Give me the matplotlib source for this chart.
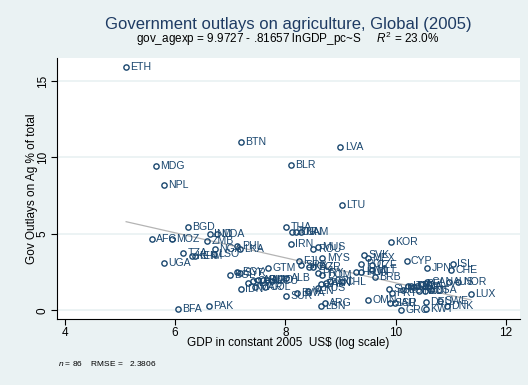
import matplotlib
matplotlib.use("Agg")
import matplotlib.pyplot as plt
import numpy as np

plt.rcParams['font.family'] = ['Liberation Sans', 'DejaVu Sans']
plt.rcParams['mathtext.fontset'] = 'custom'
plt.rcParams['mathtext.rm'] = 'Liberation Sans'
plt.rcParams['mathtext.it'] = 'Liberation Sans:italic'

# country codes, log GDP per capita and share of outlays going to agriculture
countries = [
    "ETH", "BTN", "MDG", "NPL", "BLR", "LVA", "LTU", "KOR", "BGD", "AFG",
    "MOZ", "ZMB", "IND", "MDA", "NGA", "PHL", "LKA", "TZA", "KEN", "KHM",
    "LSO", "UGA", "BFA", "PAK", "BOL", "EGY", "SYR", "IDN", "THA", "JOR",
    "TUN", "NAM", "IRN", "MUS", "ROU", "MYS", "FJI", "SRB", "KAZ", "BGR",
    "GTM", "PRY", "DOM", "ALB", "SLV", "CHN", "ARM", "GUY", "AGO", "ECU",
    "MAR", "COL", "SUR", "BWA", "VEN", "RUS", "ARG", "LBN", "ZAF", "PAN",
    "CRI", "CHL", "SVK", "MEX", "POL", "CZE", "HRV", "HUN", "MLT", "BRB",
    "CYP", "JPN", "ISL", "CHE", "CAN", "AUS", "NOR", "LUX", "OMN", "SVN",
    "PRT", "ESP", "ITA", "NZL", "GBR", "FRA", "BEL", "NLD", "AUT", "USA",
    "SAU", "ISR", "GRC", "KWT", "DNK", "DEU", "SWE",
]
ln_gdp = [
    5.11, 7.19, 5.65, 5.79, 8.10, 9.00, 9.03, 9.91, 6.23, 5.58,
    5.94, 6.58, 6.63, 6.76, 6.72, 7.13, 7.18, 6.14, 6.30, 6.36,
    6.70, 5.80, 6.05, 6.61, 6.99, 7.13, 7.18, 7.19, 8.02, 8.13,
    8.20, 8.28, 8.10, 8.59, 8.51, 8.67, 8.25, 8.28, 8.43, 8.51,
    7.68, 8.59, 8.67, 8.02, 7.33, 7.42, 7.51, 7.59, 7.66, 7.75,
    7.45, 7.63, 8.02, 8.21, 8.42, 8.60, 8.72, 8.64, 8.65, 8.74,
    8.81, 9.02, 9.43, 9.50, 9.38, 9.57, 9.29, 9.38, 9.57, 9.63,
    10.20, 10.58, 11.04, 11.00, 10.58, 10.97, 11.14, 11.37, 9.50, 9.89,
    9.93, 10.14, 10.23, 10.29, 10.33, 10.39, 10.47, 10.42, 10.53, 10.64,
    9.90, 9.99, 10.10, 10.55, 10.93, 10.55, 10.81,
]
ag_share = [
    15.93, 10.99, 9.44, 8.20, 9.49, 10.67, 6.88, 4.50, 5.44, 4.67,
    4.65, 4.54, 5.00, 5.00, 4.00, 4.24, 4.02, 3.74, 3.58, 3.58,
    3.69, 3.08, 0.10, 0.29, 2.32, 2.50, 2.43, 1.41, 5.48, 5.15,
    5.15, 5.15, 4.35, 4.17, 4.00, 3.41, 3.24, 2.97, 2.86, 2.86,
    2.75, 2.43, 2.32, 2.12, 1.82, 1.95, 1.99, 2.01, 1.99, 1.95,
    1.50, 1.54, 0.95, 1.12, 1.29, 1.45, 0.47, 0.29, 1.73, 1.80,
    1.93, 1.86, 3.63, 3.41, 3.04, 2.97, 2.54, 2.54, 2.65, 2.21,
    3.24, 2.80, 3.02, 2.65, 1.86, 1.88, 1.88, 1.08, 0.69, 1.39,
    1.12, 1.34, 1.62, 1.60, 1.54, 1.60, 1.73, 1.29, 1.29, 1.34,
    0.47, 0.49, 0.03, 0.08, 0.29, 0.58, 0.62,
]

# fitted line and summary stats
intercept = 9.9727
slope = -0.81657
r2 = 23.0
n_obs = 86
rmse = 2.3806

navy = "#1a476f"
bg = "#eaf2f3"

fig = plt.figure(figsize=(5.28, 3.85), dpi=100, facecolor=bg)
ax = fig.add_axes([57 / 528, 1 - 319 / 385, 463 / 528, 261 / 385])
ax.set_facecolor("white")

x = np.array(ln_gdp)
y = np.array(ag_share)

for yy in [0, 5, 10, 15]:
    ax.axhline(yy, color=bg, lw=1.3, zorder=0)

xfit = np.array([x.min(), x.max()])
ax.plot(xfit, intercept + slope * xfit, color="#b4b4b4", lw=0.9, zorder=1)

ax.plot(x, y, "o", ms=3.8, mfc="none", mec=navy, mew=1.0, zorder=3)
for c, xi, yi in zip(countries, x, y):
    ax.annotate(c, (xi, yi), xytext=(3.2, 0), textcoords="offset points",
                va="center", ha="left", fontsize=7.6, color=navy, zorder=4)

ax.set_xlim(3.855, 12.26)
ax.set_ylim(-0.56, 16.5)
ax.set_xticks([4, 6, 8, 10, 12])
ax.set_yticks([0, 5, 10, 15])
ax.tick_params(axis="both", direction="out", length=4, width=0.8,
               labelsize=8.5, color="black", pad=2)
for lab in ax.get_yticklabels():
    lab.set_rotation(90)
    lab.set_va("center")

for s in ["top", "right"]:
    ax.spines[s].set_visible(False)
for s in ["left", "bottom"]:
    ax.spines[s].set_linewidth(0.8)

ax.set_xlabel("GDP in constant 2005  US$ (log scale)", fontsize=8.5, labelpad=-1.5)
ax.set_ylabel("Gov Outlays on Ag % of total", fontsize=8.5, labelpad=-1)

fig.text(288 / 528, 1 - 24 / 385, "Government outlays on agriculture, Global (2005)",
         ha="center", va="center", fontsize=12, color="#1e3b63")
fig.text(288 / 528, 1 - 39 / 385,
         "gov_agexp = %.4f - %s lnGDP_pc~S     $R^2$ = %.1f%%"
         % (intercept, ("%.5f" % -slope).lstrip("0"), r2),
         ha="center", va="center", fontsize=8.5, color="black")
fig.text(58 / 528, 1 - 364 / 385, "$n$ = %d    RMSE =   %.4f" % (n_obs, rmse),
         ha="left", va="center", fontsize=6, color="black")

fig.savefig("out.png", dpi=100, facecolor=bg)
